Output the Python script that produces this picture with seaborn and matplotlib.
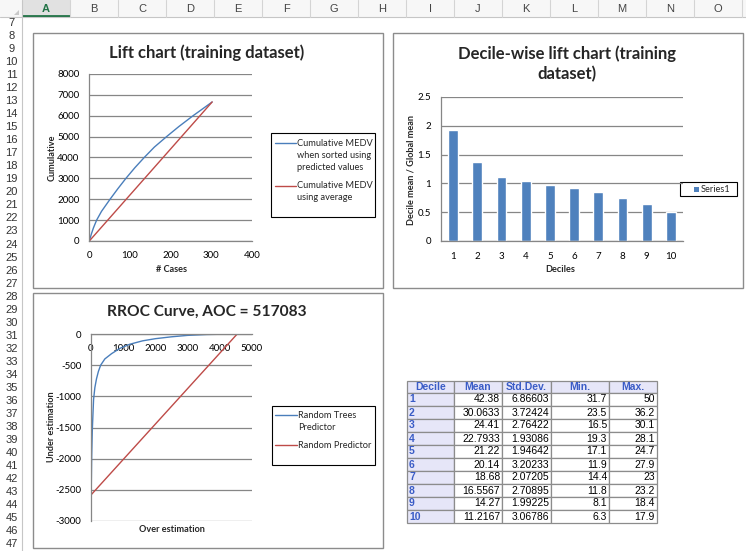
import matplotlib
matplotlib.use('Agg')
import matplotlib.pyplot as plt
import seaborn as sns
import pandas as pd
from matplotlib.patches import Rectangle, Polygon

# ---- data ----
# lift chart (cumulative MEDV)
lift_cases = [0, 5, 10, 18, 30, 51, 70, 90, 112, 135, 160, 190, 220, 255, 280, 302]
lift_cumulative = [0, 330, 620, 1000, 1420, 2000, 2500, 3000, 3510, 4000, 4500, 5000, 5480, 6000, 6350, 6660]
avg_cases = [0, 302]
avg_cumulative = [0, 6660]

# decile-wise lift
deciles = [1, 2, 3, 4, 5, 6, 7, 8, 9, 10]
decile_lift = [1.92, 1.37, 1.11, 1.04, 0.97, 0.92, 0.85, 0.75, 0.645, 0.505]

# RROC curve
rroc_over = [0, 10, 21, 41, 62, 80, 120, 170, 230, 300, 430, 640, 900, 1200, 1600, 2000, 2500, 3000, 3600, 4100, 4540]
rroc_under = [-2582, -2400, -1966, -1537, -1269, -1050, -860, -720, -600, -500, -400, -315, -230, -165, -110, -75, -45, -22, -8, -3, 0]
rand_over = [0, 4540]
rand_under = [-2582, 0]

# decile statistics table
table_header = ["Decile", "Mean", "Std.Dev.", "Min.", "Max."]
table_mean = [42.38, 30.0633, 24.41, 22.7933, 21.22, 20.14, 18.68, 16.5567, 14.27, 11.2167]
table_std = [6.86603, 3.72424, 2.76422, 1.93086, 1.94642, 3.20233, 2.07205, 2.70895, 1.99225, 3.06786]
table_min = [31.7, 23.5, 16.5, 19.3, 17.1, 11.9, 14.4, 11.8, 8.1, 6.3]
table_max = [50, 36.2, 30.1, 28.1, 24.7, 27.9, 23, 23.2, 18.4, 17.9]

# sheet headers
col_letters = list("ABCDEFGHIJKLMNO")
row_numbers = list(range(7, 48))

# ---- style ----
sns.set_style('white')
plt.rcParams['font.family'] = ['Lato', 'DejaVu Sans']
plt.rcParams['axes.unicode_minus'] = False

BLUE = '#4A7EBB'
RED = '#BE4B48'
BAR = '#4F81BD'
GRAY = '#868686'
TBL_BLUE = '#3A5CC6'
TBL_BG = '#E6E6F8'
TBL_EDGE = '#8C8C8C'

W, H = 746, 551
fig = plt.figure(figsize=(W / 100, H / 100), dpi=100)


def fig_rect(r):
    x0, y0, x1, y1 = r
    return [x0 / W, 1 - y1 / H, (x1 - x0) / W, (y1 - y0) / H]


def px_to_axes(r, px, py):
    x0, y0, x1, y1 = r
    return (px - x0) / (x1 - x0), (y1 - py) / (y1 - y0)


def excel_axes(ax, yticks):
    # excel 2007 look: gray axis lines, gray horizontal gridlines under the data
    ax.set_facecolor('none')
    for s in ['top', 'right']:
        ax.spines[s].set_visible(False)
    for s in ['left', 'bottom']:
        ax.spines[s].set_color(GRAY)
        ax.spines[s].set_linewidth(0.9)
        ax.spines[s].set_zorder(4)
    ax.grid(False)
    ax.set_yticks(yticks)
    ax.hlines(yticks, 0, 1, transform=ax.get_yaxis_transform(), color=GRAY, lw=0.9, zorder=0.5)
    ax.tick_params(colors=GRAY, labelcolor='black', labelsize=7, length=3, width=0.9)
    ax.tick_params(axis='y', pad=4)
    ax.tick_params(axis='x', pad=4)


def place_labels(ax, r, xl, xpos, yl, ypos, title, tpos, tsize=12):
    ax.set_xlabel(xl, fontsize=6.6, fontweight='bold', va='center')
    ax.xaxis.set_label_coords(*px_to_axes(r, *xpos))
    ax.set_ylabel(yl, fontsize=6.6, fontweight='bold', va='center')
    ax.yaxis.set_label_coords(*px_to_axes(r, *ypos))
    tx, ty = px_to_axes(r, *tpos)
    ax.set_title(title, x=tx, y=ty, va='center', pad=0, fontsize=tsize,
                 fontweight='bold', linespacing=1.3)


# ---- spreadsheet background ----
bg = fig.add_axes([0, 0, 1, 1])
bg.set_xlim(0, W)
bg.set_ylim(H, 0)
bg.axis('off')

bg.add_patch(Rectangle((0, 0), W, 17, color='#F7F7F7', lw=0))
bg.add_patch(Rectangle((22, 0), 48, 17, color='#E1E1E1', lw=0))
bg.plot([22, 70], [16.2, 16.2], color='#217346', lw=2, solid_capstyle='butt')
bg.plot([0, W], [17, 17], color='#C6C6C6', lw=0.8)
bg.plot([22, 22], [0, H], color='#C6C6C6', lw=0.8)
for k, letter in enumerate(col_letters):
    cx = 22 + 48 * (k + 0.5)
    bg.plot([22 + 48 * (k + 1)] * 2, [0, 17], color='#D4D4D4', lw=0.8)
    if letter == 'A':
        bg.text(cx, 9, letter, ha='center', va='center', fontsize=8, color='#217346',
                fontweight='bold', family='Liberation Sans')
    else:
        bg.text(cx, 9, letter, ha='center', va='center', fontsize=8, color='#444444',
                family='Liberation Sans')
bg.add_patch(Polygon([(19, 10), (19, 15), (14, 15)], color='#C8C8C8', lw=0))
for r in row_numbers:
    cy = 23 + (r - 7) * 13.03
    bg.text(11.5, cy, str(r), ha='center', va='center', fontsize=8, color='#333333',
            family='Liberation Sans')

# chart frames
chart_boxes = [(33, 33, 383, 288), (393, 33, 743, 288), (33, 293, 383, 548)]
for x0, y0, x1, y1 in chart_boxes:
    bg.add_patch(Rectangle((x0, y0), x1 - x0, y1 - y0, facecolor='white', edgecolor=TBL_EDGE, lw=1))

# ---- lift chart ----
r1 = (89.3, 74, 252, 241)
ax1 = fig.add_axes(fig_rect(r1))
sns.lineplot(x=lift_cases, y=lift_cumulative, ax=ax1, color=BLUE, lw=1, zorder=3)
sns.lineplot(x=avg_cases, y=avg_cumulative, ax=ax1, color=RED, lw=1, zorder=3)
excel_axes(ax1, list(range(0, 8001, 1000)))
ax1.set_xlim(0, 400)
ax1.set_ylim(0, 8000)
ax1.set_xticks(range(0, 401, 100))
place_labels(ax1, r1, '# Cases', (171, 269), 'Cumulative', (52, 158),
             'Lift chart (training dataset)', (207, 53))

bg.add_patch(Rectangle((271, 133), 104, 84, facecolor='white', edgecolor='black', lw=0.8))
bg.plot([275, 296], [143, 143], color=BLUE, lw=1)
bg.plot([275, 296], [186, 186], color=RED, lw=1)
for txt, y in [('Cumulative MEDV', 143), ('when sorted using', 155.5), ('predicted values', 168),
               ('Cumulative MEDV', 186), ('using average', 198)]:
    bg.text(297, y, txt, ha='left', va='center', fontsize=6.7)

# ---- decile-wise lift chart ----
r2 = (441, 97, 683, 241)
ax2 = fig.add_axes(fig_rect(r2))
df = pd.DataFrame({'Decile': deciles, 'Lift': decile_lift})
sns.barplot(data=df, x='Decile', y='Lift', ax=ax2, color=BAR, width=0.4, saturation=1, zorder=3)
excel_axes(ax2, [0, 0.5, 1, 1.5, 2, 2.5])
ax2.set_xlim(-0.5, 9.5)
ax2.set_ylim(0, 2.5)
ax2.set_yticklabels(['0', '0.5', '1', '1.5', '2', '2.5'])
ax2.set_xticks(range(10))
ax2.set_xticklabels([str(d) for d in deciles])
ax2.set_xticks([i - 0.5 for i in range(11)], minor=True)
ax2.tick_params(axis='x', which='major', length=0, pad=8)
ax2.tick_params(axis='x', which='minor', length=3, width=0.9, color=GRAY)
place_labels(ax2, r2, 'Deciles', (560, 269), 'Decile mean / Global mean', (411, 170),
             'Decile-wise lift chart (training\ndataset)', (567, 64))

bg.add_patch(Rectangle((680, 182), 57, 14, facecolor='white', edgecolor='black', lw=0.8))
bg.add_patch(Rectangle((693.5, 186.5), 5, 5, color=BAR, lw=0))
bg.text(700.5, 189, 'Series1', ha='left', va='center', fontsize=6.7)

# ---- RROC curve ----
r3 = (91, 334, 252, 521)
ax3 = fig.add_axes(fig_rect(r3))
sns.lineplot(x=rroc_over, y=rroc_under, ax=ax3, color=BLUE, lw=1, zorder=3)
sns.lineplot(x=rand_over, y=rand_under, ax=ax3, color=RED, lw=1, zorder=3)
excel_axes(ax3, list(range(-3000, 1, 500)))
ax3.spines['bottom'].set_position(('data', 0))
ax3.set_xlim(0, 5000)
ax3.set_ylim(-3000, 0)
ax3.set_xticks(range(0, 5001, 1000))
place_labels(ax3, r3, 'Over estimation', (172, 530), 'Under estimation', (52, 427),
             'RROC Curve, AOC = 517083', (207, 312), tsize=11.2)

bg.add_patch(Rectangle((272, 406), 103, 59, facecolor='white', edgecolor='black', lw=0.8))
bg.plot([275, 297], [415, 415], color=BLUE, lw=1)
bg.plot([275, 297], [445, 445], color=RED, lw=1)
for txt, y in [('Random Trees', 415), ('Predictor', 427), ('Random Predictor', 445)]:
    bg.text(298, y, txt, ha='left', va='center', fontsize=6.7)

# ---- decile table ----
col_edges = [407, 454, 502, 551, 609, 657]
row_top = 381
row_h = [12] + [13] * 10
row_edges = [row_top]
for h in row_h:
    row_edges.append(row_edges[-1] + h)

columns = [deciles, table_mean, table_std, table_min, table_max]
for i in range(11):
    y0, y1 = row_edges[i], row_edges[i + 1]
    cy = (y0 + y1) / 2
    for j in range(5):
        x0, x1 = col_edges[j], col_edges[j + 1]
        header_cell = (i == 0 or j == 0)
        bg.add_patch(Rectangle((x0, y0), x1 - x0, y1 - y0, facecolor=TBL_BG if header_cell else 'white',
                               edgecolor=TBL_EDGE, lw=0.9))
        if i == 0:
            bg.text((x0 + x1) / 2, cy, table_header[j], ha='center', va='center', fontsize=7.5,
                    fontweight='bold', color=TBL_BLUE, family='Liberation Sans')
        elif j == 0:
            bg.text(x0 + 2, cy, str(deciles[i - 1]), ha='left', va='center', fontsize=7.5,
                    fontweight='bold', color=TBL_BLUE, family='Liberation Sans')
        else:
            bg.text(x1 - 2, cy, '%g' % columns[j][i - 1], ha='right', va='center', fontsize=7.5,
                    color='black', family='Liberation Sans')

fig.savefig('out.png', dpi=100)
